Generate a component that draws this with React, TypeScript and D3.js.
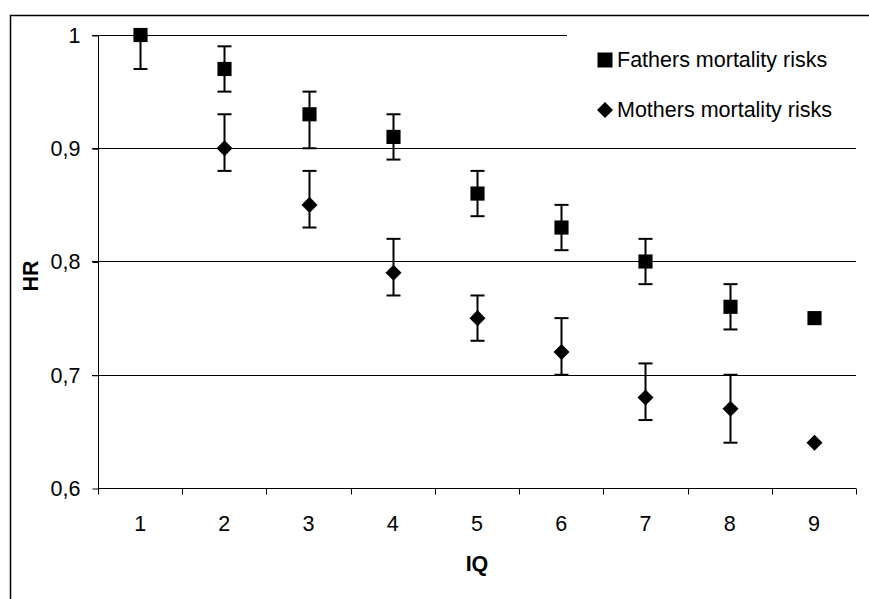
import { useEffect, useRef } from 'react';
import * as d3 from 'd3';

const categories = ['1', '2', '3', '4', '5', '6', '7', '8', '9'];

// fathers: HR with lower / upper CI
const fathersHR = [1.0, 0.97, 0.93, 0.91, 0.86, 0.83, 0.8, 0.76, 0.75];
const fathersLow = [0.97, 0.95, 0.9, 0.89, 0.84, 0.81, 0.78, 0.74, null];
const fathersHigh = [null, 0.99, 0.95, 0.93, 0.88, 0.85, 0.82, 0.78, null];

// mothers: first category is the reference, hidden under the fathers marker
const mothersHR = [null, 0.9, 0.85, 0.79, 0.75, 0.72, 0.68, 0.67, 0.64];
const mothersLow = [null, 0.88, 0.83, 0.77, 0.73, 0.7, 0.66, 0.64, null];
const mothersHigh = [null, 0.93, 0.88, 0.82, 0.77, 0.75, 0.71, 0.7, null];

const yTicks = [0.6, 0.7, 0.8, 0.9, 1];
const legendLabels = ['Fathers mortality risks', 'Mothers mortality risks'];

const W = 869;
const H = 599;
const FONT = '"Liberation Sans", Arial, sans-serif';
const FS = 21.5;

export default function App() {
  const svgRef = useRef<SVGSVGElement>(null);

  useEffect(() => {
    if (!svgRef.current) return;
    const svg = d3.select(svgRef.current);
    svg.selectAll('*').remove();

    const left = 98;
    const right = 856;
    const top = 35;
    const bottom = 488;

    const x = d3.scaleBand().domain(categories).range([left, right]).padding(0);
    const cx = (c: string) => (x(c) ?? 0) + x.bandwidth() / 2;
    const y = d3.scaleLinear().domain([0.6, 1]).range([bottom, top]);

    svg.append('rect').attr('width', W).attr('height', H).attr('fill', '#fff');

    // outer chart border (runs off the right and bottom of the picture)
    svg
      .append('rect')
      .attr('x', 10.5)
      .attr('y', 15.5)
      .attr('width', 1000)
      .attr('height', 1000)
      .attr('fill', 'none')
      .attr('stroke', '#000')
      .attr('stroke-width', 1.5);

    // gridlines
    svg
      .append('g')
      .selectAll('line')
      .data(yTicks.filter((t) => t > 0.6))
      .join('line')
      .attr('x1', left - 6)
      .attr('x2', right)
      .attr('y1', (d) => Math.round(y(d)) + 0.5)
      .attr('y2', (d) => Math.round(y(d)) + 0.5)
      .attr('stroke', '#000')
      .attr('stroke-width', 1);

    // y axis
    const yAxis = svg
      .append('g')
      .attr('transform', `translate(${left + 0.5},0.5)`)
      .call(
        d3
          .axisLeft(y)
          .tickValues(yTicks)
          .tickSize(6)
          .tickPadding(12)
          .tickFormat((d) => d3.format('.1~f')(d as number).replace('.', ','))
      );
    yAxis.select('.domain').attr('stroke', '#000').attr('d', `M0,${top}V${bottom}`);
    yAxis.selectAll('text').attr('font-size', FS).attr('font-family', FONT).attr('fill', '#000');

    // x axis with ticks on band edges
    const xAxis = svg.append('g').attr('transform', `translate(0,${bottom + 0.5})`);
    xAxis
      .append('line')
      .attr('x1', left)
      .attr('x2', right)
      .attr('stroke', '#000');
    const edges = categories.map((c) => x(c) ?? 0).concat([right]);
    xAxis
      .selectAll('line.tick')
      .data(edges)
      .join('line')
      .attr('class', 'tick')
      .attr('x1', (d) => Math.round(d) + 0.5)
      .attr('x2', (d) => Math.round(d) + 0.5)
      .attr('y1', 0)
      .attr('y2', 6)
      .attr('stroke', '#000');
    xAxis
      .selectAll('text')
      .data(categories)
      .join('text')
      .attr('x', (d) => cx(d))
      .attr('y', 42)
      .attr('text-anchor', 'middle')
      .attr('font-size', FS)
      .attr('font-family', FONT)
      .text((d) => d);

    // axis titles
    svg
      .append('text')
      .attr('x', (left + right) / 2)
      .attr('y', 571)
      .attr('text-anchor', 'middle')
      .attr('font-size', FS)
      .attr('font-weight', 'bold')
      .attr('font-family', FONT)
      .text('IQ');
    svg
      .append('text')
      .attr('transform', 'translate(38,276) rotate(-90)')
      .attr('text-anchor', 'middle')
      .attr('font-size', FS)
      .attr('font-weight', 'bold')
      .attr('font-family', FONT)
      .text('HR');

    // legend box (white, hides the top gridline)
    const legend = svg.append('g');
    legend
      .append('rect')
      .attr('x', 567)
      .attr('y', 17)
      .attr('width', 300)
      .attr('height', 120)
      .attr('fill', '#fff');

    const square = d3.symbol(d3.symbolSquare, 200);
    const diamond = d3.symbol(d3.symbolSquare, 128);

    const drawSeries = (
      vals: (number | null)[],
      lo: (number | null)[],
      hi: (number | null)[],
      shape: d3.Symbol<unknown, unknown>,
      rot: number
    ) => {
      const g = svg.append('g');
      categories.forEach((c, i) => {
        const v = vals[i];
        if (v == null) return;
        const px = Math.round(cx(c)) + 0.5;
        const segs: [number, number][] = [];
        if (lo[i] != null) segs.push([v, lo[i] as number]);
        if (hi[i] != null) segs.push([v, hi[i] as number]);
        segs.forEach(([a, b]) => {
          g.append('line')
            .attr('x1', px)
            .attr('x2', px)
            .attr('y1', y(a))
            .attr('y2', y(b))
            .attr('stroke', '#000')
            .attr('stroke-width', 2);
          g.append('line')
            .attr('x1', px - 7)
            .attr('x2', px + 7)
            .attr('y1', y(b))
            .attr('y2', y(b))
            .attr('stroke', '#000')
            .attr('stroke-width', 2);
        });
        g.append('path')
          .attr('d', shape()!)
          .attr('transform', `translate(${px},${y(v)}) rotate(${rot})`)
          .attr('fill', '#000');
      });
    };

    drawSeries(mothersHR, mothersLow, mothersHigh, diamond, 45);
    drawSeries(fathersHR, fathersLow, fathersHigh, square, 0);

    const legendShapes = [d3.symbol(d3.symbolSquare, 225), d3.symbol(d3.symbolSquare, 128)];
    legendLabels.forEach((label, i) => {
      const ly = 60 + i * 50;
      legend
        .append('path')
        .attr('d', legendShapes[i]()!)
        .attr('transform', `translate(605,${ly}) rotate(${i * 45})`)
        .attr('fill', '#000');
      legend
        .append('text')
        .attr('x', 617)
        .attr('y', ly + 7)
        .attr('font-size', FS)
        .attr('font-family', FONT)
        .text(label);
    });
  }, []);

  return (
    <svg
      ref={svgRef}
      width={W}
      height={H}
      style={{ position: 'absolute', left: 0, top: 0, display: 'block' }}
    />
  );
}
